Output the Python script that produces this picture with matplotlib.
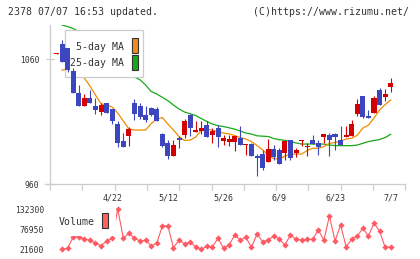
import numpy as np
import matplotlib
matplotlib.use('Agg')
import matplotlib.pyplot as plt
from matplotlib.patches import Rectangle
from matplotlib.lines import Line2D

# ---------------- data ----------------
opens = [1064.4, 1072.2, 1069.0, 1050.9, 1033.3, 1022.6, 1028.8, 1022.6, 1018.1, 1024.8,
         1020.0, 1008.2, 994.9, 998.6, 1024.8, 1022.9, 1015.4, 1020.8, 1020.0, 1000.2,
         992.8, 982.6, 996.8, 999.4, 1015.4, 1002.1, 1002.9, 1007.4, 999.4, 1004.8,
         994.9, 994.1, 994.1, 996.8, 991.4, 992.2, 982.6, 984.0, 978.1, 988.0,
         987.4, 984.8, 995.4, 984.8, 994.6, 990.1, 995.4, 992.8, 998.1, 999.4,
         1000.2, 995.4, 998.1, 998.6, 1016.2, 1030.6, 1014.6, 1016.8, 1035.4, 1030.1,
         1038.1]
highs = [1065.0, 1075.4, 1069.0, 1052.8, 1039.4, 1032.2, 1035.4, 1028.8, 1024.8, 1025.3,
         1020.0, 1010.9, 1001.3, 1006.1, 1028.0, 1025.3, 1022.6, 1021.5, 1022.1, 1001.3,
         995.4, 995.4, 998.6, 1012.0, 1016.5, 1010.6, 1010.6, 1010.6, 1004.8, 1007.4,
         999.4, 999.4, 998.6, 1006.6, 992.2, 992.8, 984.0, 987.4, 996.0, 991.4,
         988.8, 994.6, 995.4, 988.8, 995.2, 992.8, 999.4, 995.4, 1000.2, 1001.3,
         1001.0, 1006.6, 1006.6, 1011.4, 1028.0, 1030.6, 1019.4, 1030.6, 1036.8, 1036.0,
         1044.8]
lows = [1064.4, 1058.1, 1050.1, 1032.8, 1022.6, 1022.6, 1024.8, 1016.2, 1015.4, 1016.8,
        1008.2, 990.1, 990.1, 990.6, 1011.4, 1012.0, 1010.1, 1014.5, 1010.9, 989.6,
        980.5, 982.6, 988.8, 996.8, 998.6, 1002.1, 1000.2, 998.1, 992.8, 990.1,
        991.4, 990.6, 986.9, 991.4, 983.4, 982.6, 966.6, 971.4, 978.1, 979.4,
        976.0, 979.4, 979.7, 982.1, 990.9, 982.6, 992.0, 983.4, 992.8, 982.6,
        987.4, 991.4, 998.1, 998.6, 1014.6, 1012.8, 1012.8, 1016.8, 1023.4, 1026.9,
        1034.1]
closes = [1065.0, 1058.1, 1051.4, 1032.8, 1022.6, 1028.8, 1024.8, 1019.4, 1023.4, 1016.8,
          1010.9, 992.8, 990.1, 1004.2, 1016.2, 1014.1, 1011.4, 1015.4, 1010.9, 990.6,
          982.6, 991.4, 995.4, 1010.6, 1004.8, 1003.4, 1004.8, 998.1, 1002.6, 998.1,
          997.3, 996.0, 998.6, 991.4, 992.2, 982.6, 980.8, 972.8, 988.0, 982.1,
          976.0, 994.6, 980.8, 987.4, 995.2, 990.6, 992.0, 990.1, 1000.2, 995.4,
          997.6, 991.4, 999.4, 1008.2, 1024.2, 1014.1, 1012.8, 1028.8, 1023.4, 1032.2,
          1041.3]
ma5 = [np.nan, 1051.4, 1052.2, 1050.0, 1047.0, 1045.0, 1038.6, 1031.4, 1024.4, 1023.4,
       1021.8, 1017.0, 1010.6, 1004.2, 1003.4, 1003.4, 1003.4, 1008.6, 1012.2, 1013.4,
       1008.2, 1003.4, 998.2, 995.0, 995.4, 997.8, 1003.4, 1004.0, 1003.4, 1002.1,
       1000.9, 1000.4, 999.0, 997.4, 996.2, 994.2, 991.0, 987.7, 983.0, 980.6,
       980.2, 982.6, 984.1, 984.2, 984.2, 987.0, 988.8, 988.8, 990.2, 992.8,
       993.4, 994.6, 996.2, 996.9, 999.2, 1005.0, 1007.3, 1013.0, 1019.4, 1023.8,
       1027.4]
ma25 = [np.nan, 1087.4, 1086.2, 1084.6, 1082.2, 1078.6, 1075.4, 1071.8, 1068.2, 1064.6,
        1061.0, 1057.0, 1053.0, 1049.0, 1045.8, 1043.6, 1039.4, 1034.2, 1032.2, 1029.6,
        1026.9, 1023.4, 1020.2, 1017.8, 1016.4, 1015.0, 1012.6, 1010.2, 1008.2, 1006.9,
        1006.2, 1005.2, 1004.1, 1002.6, 1001.0, 1000.2, 998.8, 998.5, 998.2, 996.6,
        995.7, 995.2, 994.2, 993.1, 992.2, 992.2, 992.2, 992.2, 992.2, 991.4,
        991.0, 990.9, 990.9, 990.9, 991.4, 992.8, 994.2, 995.0, 995.8, 997.4,
        1000.0]
volume = [np.nan, 21600, 24400, 56000, 56000, 49300, 47300, 38200, 31600, 44600,
          52000, 132300, 52000, 65900, 52000, 44600, 47300, 30700, 38200, 86100,
          86100, 26000, 47300, 36300, 41000, 28800, 21600, 29900, 28800, 52000,
          24400, 33500, 61200, 47300, 54800, 27100, 63900, 42600, 47300, 58400,
          50100, 33500, 61200, 49300, 47300, 49300, 49300, 75000, 47300, 113800,
          44600, 88900, 28800, 49300, 58400, 79700, 58400, 93600, 72200, 27100,
          28800]
date_pos = [10, 20, 30, 40, 50, 60]
date_labels = ['4/22', '5/12', '5/26', '6/9', '6/23', '7/7']
price_ticks = [960, 1060]
vol_ticks = [21600, 76950, 132300]
vol_tick_labels = ['21600', '76950', '132300']
title_left = '2378 07/07 16:53 updated.'
title_right = '(C)https://www.rizumu.net/'

# ---------------- style ----------------
W, H = 420, 259
MONO = 'DejaVu Sans Mono'
TXT = '#333333'
GRID = '#cccccc'
BLUE = '#3c46be'
RED = '#d40000'
ORANGE = '#f08c00'
GREEN = '#18a818'
VOLC = '#ff5a64'

def fx(p):
    return p / W

def fy(p):
    return 1 - p / H

fig = plt.figure(figsize=(W / 100, H / 100), dpi=100)
fig.patch.set_facecolor('white')

x0, x1 = 50, 405.3
ax = fig.add_axes([fx(x0), fy(184.3), fx(x1) - fx(x0), fy(25) - fy(184.3)])
xlim = (-1.167, 62.62)
ax.set_xlim(*xlim)
ax.set_ylim(960, 960 + (184.3 - 25) / 1.25)

n = len(opens)
xs = np.arange(n)
o = np.array(opens); c = np.array(closes); h = np.array(highs); l = np.array(lows)
up = c >= o
cols = np.where(up, RED, BLUE)

# moving averages (below legend box)
ax.plot(xs, ma25, color=GREEN, lw=0.9, zorder=1)
ax.plot(xs, ma5, color=ORANGE, lw=0.9, zorder=1)

# legend box
ax.add_patch(Rectangle((fx(65.3), fy(77.3)), fx(143.3) - fx(65.3), fy(30) - fy(77.3),
                       transform=fig.transFigure, facecolor='white', edgecolor=GRID,
                       lw=0.9, zorder=2))
ax.text(fx(124.3), fy(46.7), '5-day MA', transform=fig.transFigure, ha='right', va='center',
        family=MONO, fontsize=7.1, color=TXT, zorder=5)
ax.text(fx(124.3), fy(63.3), '25-day MA', transform=fig.transFigure, ha='right', va='center',
        family=MONO, fontsize=7.1, color=TXT, zorder=5)
ax.add_patch(Rectangle((fx(131.7), fy(52.7)), fx(137.5) - fx(131.7), fy(37.5) - fy(52.7),
                       transform=fig.transFigure, facecolor='#f08c1c', edgecolor='#333333',
                       lw=0.8, zorder=5))
ax.add_patch(Rectangle((fx(131.7), fy(69.5)), fx(137.5) - fx(131.7), fy(54.5) - fy(69.5),
                       transform=fig.transFigure, facecolor='#1aa81a', edgecolor='#333333',
                       lw=0.8, zorder=5))

# candles
ax.vlines(xs, l, h, colors=cols, lw=0.8, zorder=3)
bottoms = np.minimum(o, c)
heights = np.abs(c - o)
minh = 0.9
bottoms = np.where(heights < minh, (o + c) / 2 - minh / 2, bottoms)
heights = np.maximum(heights, minh)
ax.bar(xs, heights, bottom=bottoms, width=0.9, color=cols, linewidth=0, zorder=3.5)

# axes styling
for s in ['top', 'right']:
    ax.spines[s].set_visible(False)
for s in ['left', 'bottom']:
    ax.spines[s].set_color(GRID)
    ax.spines[s].set_linewidth(0.9)
ax.spines['left'].set_zorder(0.5)
ax.set_yticks(price_ticks)
ax.set_yticklabels([str(v) for v in price_ticks])
ax.tick_params(axis='y', direction='inout', length=5.8, width=0.9, color=GRID,
               pad=4.6, labelsize=5.8, labelcolor=TXT)
for t in ax.get_yticklabels():
    t.set_family(MONO)
ax.set_xticks(date_pos)
ax.set_xticklabels(date_labels)
ax.tick_params(axis='x', which='major', length=0, pad=6.3, labelsize=6.0, labelcolor=TXT)
for t in ax.get_xticklabels():
    t.set_family(MONO)
ax.set_xticks(np.linspace(xlim[0], xlim[1], 12), minor=True)
ax.tick_params(axis='x', which='minor', direction='out', length=4.3, width=0.9, color=GRID)
# bottom line extension to the left
fig.add_artist(Line2D([fx(45), fx(50)], [fy(184.3), fy(184.3)], color=GRID, lw=0.9))

# volume axes
vax = fig.add_axes([fx(x0), fy(249.3), fx(x1) - fx(x0), fy(209.3) - fy(249.3)])
vax.set_xlim(*xlim)
vax.set_ylim(21600, 132300)
vax.plot(xs, volume, color=VOLC, lw=0.8, marker='D', markersize=3.2,
         markeredgewidth=0, clip_on=False, zorder=1)
for s in vax.spines.values():
    s.set_visible(False)
vax.set_xticks([])
vax.set_yticks(vol_ticks)
vax.set_yticklabels(vol_tick_labels)
vax.tick_params(axis='y', length=0, pad=4.3, labelsize=5.8, labelcolor=TXT)
for t in vax.get_yticklabels():
    t.set_family(MONO)
vax.patch.set_alpha(0)
vax.add_patch(Rectangle((fx(52), fy(236.2)), fx(115.5) - fx(52), fy(207) - fy(236.2),
                        transform=fig.transFigure, facecolor='white', edgecolor='none',
                        zorder=2, clip_on=False))
vax.text(fx(58.7), fy(222), 'Volume', transform=fig.transFigure, ha='left', va='center',
         family=MONO, fontsize=7.1, color=TXT, zorder=5)
vax.add_patch(Rectangle((fx(101.7), fy(228.3)), fx(107.7) - fx(101.7), fy(212.7) - fy(228.3),
                        transform=fig.transFigure, facecolor='#ff6060', edgecolor='#333333',
                        lw=0.8, zorder=5, clip_on=False))

# header texts
fig.text(fx(8.3), fy(12.3), title_left, ha='left', va='center', family=MONO,
         fontsize=7.1, color=TXT)
fig.text(fx(409.3), fy(12.3), title_right, ha='right', va='center', family=MONO,
         fontsize=7.1, color=TXT)

fig.savefig('out.png', dpi=100, facecolor='white')
